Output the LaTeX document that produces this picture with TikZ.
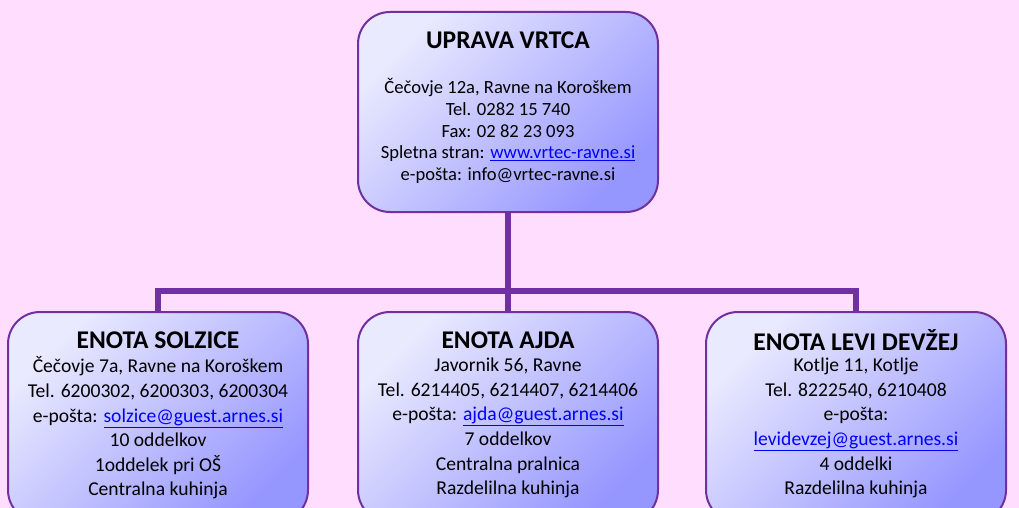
\documentclass[tikz,border=0pt]{standalone}
\usepackage{fontspec}
\setmainfont{Carlito}

\definecolor{ozadje}{RGB}{255,221,255}
\definecolor{vijolicna}{RGB}{112,48,160}
\definecolor{svetla}{RGB}{234,234,255}
\definecolor{temna}{RGB}{150,150,255}
\definecolor{povezava}{RGB}{0,0,255}

\newcommand{\spletna}[1]{\textcolor{povezava}{\underline{#1}}}

\tikzset{
  okvir/.style={draw=vijolicna, line width=2pt, rounded corners=32pt,
    minimum width=300pt, top color=svetla, bottom color=temna, shading angle=45},
  naslov/.style={font=\fontsize{25.5}{30}\selectfont\bfseries},
  besedilo/.style={align=center, font=\fontsize{18.6}{21.75}\selectfont},
  besedilo2/.style={align=center, font=\fontsize{19.6}{24.6}\selectfont},
  crta/.style={draw=vijolicna, line width=6pt}
}

\begin{document}
\begin{tikzpicture}[x=1pt, y=1pt]
\fill[ozadje] (0,0) rectangle (1019,-508);
\clip (0,0) rectangle (1019,-508);

% Uprava
\node[okvir, minimum height=200pt] (uprava) at (508,-112) {};
\node[naslov] (upravaN) at (508,-40) {UPRAVA VRTCA};
\node[besedilo] (upravaB) at (508,-131) {Čečovje 12a, Ravne na Koroškem\\Tel. 0282 15 740\\Fax: 02 82 23 093\\Spletna stran: \spletna{www.vrtec-ravne.si}\\e-pošta: info@vrtec-ravne.si};

% Enote
\node[okvir, minimum height=210pt] (solzice) at (158,-417) {};
\node[okvir, minimum height=210pt] (ajda) at (508,-417) {};
\node[okvir, minimum height=210pt] (levi) at (856,-417) {};

\node[naslov] (solziceN) at (158,-340) {ENOTA SOLZICE};
\node[besedilo2] (solziceB) at (158,-428) {Čečovje 7a, Ravne na Koroškem\\Tel. 6200302, 6200303, 6200304\\e-pošta: \spletna{solzice@guest.arnes.si}\\10 oddelkov\\1oddelek pri OŠ\\Centralna kuhinja};

\node[naslov] (ajdaN) at (508,-340) {ENOTA AJDA};
\node[besedilo2] (ajdaB) at (508,-428) {Javornik 56, Ravne\\Tel. 6214405, 6214407, 6214406\\e-pošta: \spletna{ajda@guest.arnes.si}\\7 oddelkov\\Centralna pralnica\\Razdelilna kuhinja};

\node[naslov] (leviN) at (856,-340) {ENOTA LEVI DEVŽEJ};
\node[besedilo2] (leviB) at (856,-428) {Kotlje 11, Kotlje\\Tel. 8222540, 6210408\\e-pošta:\\\spletna{levidevzej@guest.arnes.si}\\4 oddelki\\Razdelilna kuhinja};

% Povezave
\coordinate (razcep) at (508,-291);
\draw[crta] (uprava.south) -- (razcep);
\draw[crta] (solzice.north) |- (razcep) -| (levi.north);
\draw[crta] (razcep) -- (ajda.north);

\end{tikzpicture}
\end{document}
